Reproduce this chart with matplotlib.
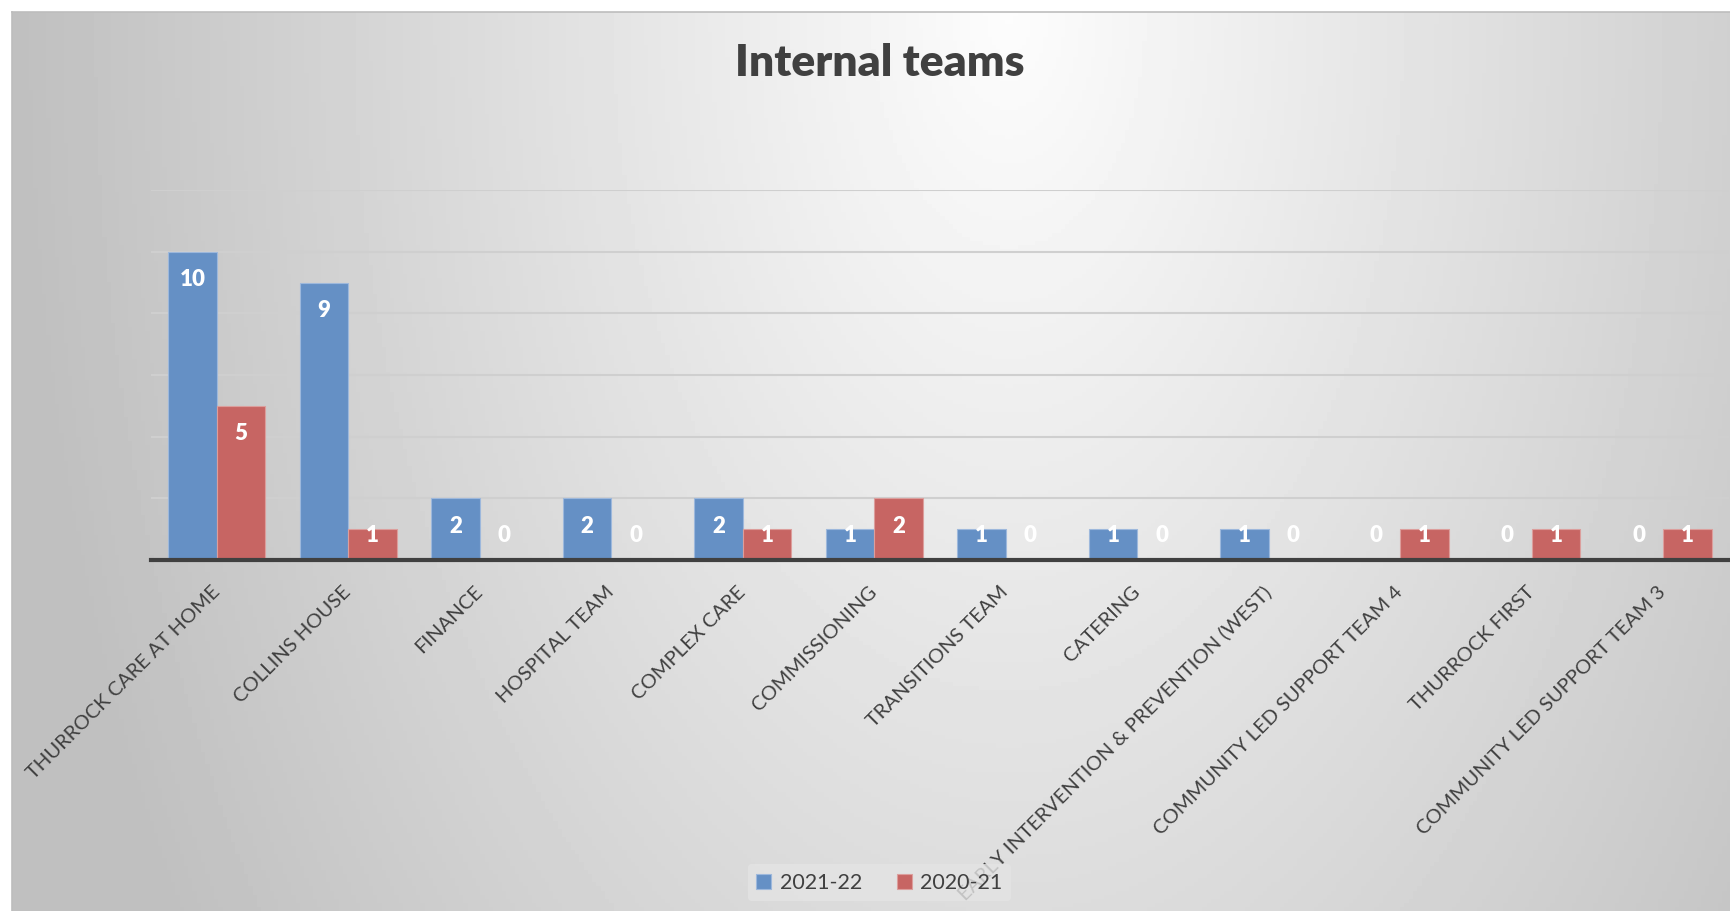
import matplotlib
matplotlib.use('Agg')
import matplotlib.pyplot as plt
import numpy as np

teams = ['THURROCK CARE AT HOME', 'COLLINS HOUSE', 'FINANCE', 'HOSPITAL TEAM',
         'COMPLEX CARE', 'COMMISSIONING', 'TRANSITIONS TEAM', 'CATERING',
         'EARLY INTERVENTION & PREVENTION (WEST)', 'COMMUNITY LED SUPPORT TEAM 4',
         'THURROCK FIRST', 'COMMUNITY LED SUPPORT TEAM 3']
y2021_22 = [10, 9, 2, 2, 2, 1, 1, 1, 1, 0, 0, 0]
y2020_21 = [5, 1, 0, 0, 1, 2, 0, 0, 0, 1, 1, 1]
series_names = ['2021-22', '2020-21']

blue = '#6590C5'
red = '#C76563'
text_col = '#404040'

plt.rcParams['font.family'] = ['Lato', 'DejaVu Sans']

W, H = 1731, 911
fig = plt.figure(figsize=(W / 100, H / 100), dpi=100)
fig.patch.set_facecolor('white')

# gradient background of the chart area
bg = fig.add_axes([12 / W, 0, 1 - 12 / W, 1 - 12 / H], zorder=0)
gx, gy = np.meshgrid(np.linspace(0, 1, 400), np.linspace(0, 1, 220))
d = np.sqrt(((gx - 0.58) / 0.58) ** 2 + (gy / 1.9) ** 2)
shade = 0.99 - 0.24 * np.clip(d, 0, 1)
bg.imshow(shade, cmap='gray', vmin=0, vmax=1, aspect='auto', extent=[0, 1, 1, 0])
bg.set_xlim(0, 1)
bg.set_ylim(1, 0)
bg.set_xticks([])
bg.set_yticks([])
for s in bg.spines.values():
    s.set_color('#bdbdbd')
    s.set_linewidth(1.2)
bg.spines['right'].set_visible(False)
bg.spines['bottom'].set_visible(False)

ax = fig.add_axes([151 / W, 351 / H, 1578 / W, 370 / H], zorder=1)
ax.patch.set_alpha(0)

x = np.arange(len(teams))
w = 0.37
b1 = ax.bar(x - w / 2, y2021_22, w, color=blue, edgecolor='#9db8dc', linewidth=0.8,
            label=series_names[0], zorder=3)
b2 = ax.bar(x + w / 2, y2020_21, w, color=red, edgecolor='#dc9e9c', linewidth=0.8,
            label=series_names[1], zorder=3)

for xs, vals in [(x - w / 2, y2021_22), (x + w / 2, y2020_21)]:
    for xi, v in zip(xs, vals):
        ax.text(xi, max(v - 0.9, 0.8), str(v), ha='center', va='center',
                color='white', fontsize=16, fontweight='heavy', zorder=4)

ax.set_xlim(-0.5, len(teams) - 0.5)
ax.set_ylim(0, 12)
ax.set_yticks(range(2, 13, 2))
ax.yaxis.grid(True, color='#cfcfcf', linewidth=1.5, zorder=0)
ax.tick_params(axis='y', left=False, labelleft=False)
for s in ['top', 'right', 'left']:
    ax.spines[s].set_visible(False)
ax.spines['bottom'].set_color(text_col)
ax.spines['bottom'].set_linewidth(3)
ax.spines['bottom'].set_zorder(5)

ax.set_xticks(x)
ax.set_xticklabels(teams, rotation=45, ha='right', va='center',
                   rotation_mode='anchor', fontsize=14.5, color=text_col)
ax.tick_params(axis='x', length=0, pad=21)

fig.text(0.508, 0.931, 'Internal teams', ha='center', va='center',
         fontsize=32, fontweight='heavy', color=text_col)

leg = fig.legend(handles=[b1, b2], loc='center', bbox_to_anchor=(0.508, 0.031),
                 ncol=2, frameon=True, fontsize=15.5, handlelength=0.7,
                 handleheight=0.7, columnspacing=1.6, handletextpad=0.4)
leg.get_frame().set_facecolor('#e4e4e4')
leg.get_frame().set_edgecolor('none')
leg.get_frame().set_alpha(0.8)
for t in leg.get_texts():
    t.set_color(text_col)

fig.savefig('out.png', dpi=100)
